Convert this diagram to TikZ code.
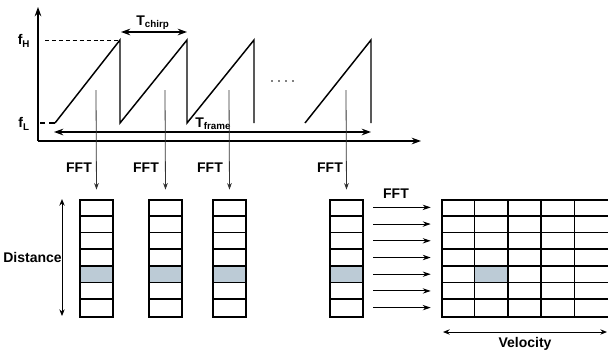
\documentclass[tikz,border=0pt]{standalone}
\usepackage{fontspec}
\setmainfont{Liberation Sans}
\usetikzlibrary{arrows.meta,calc}
\definecolor{hl}{RGB}{188,203,214}
\begin{document}
\begin{tikzpicture}[x=0.75pt,y=-0.75pt,
  lbl/.style={font=\fontsize{10.5}{12}\selectfont\bfseries, inner sep=0pt},
  sig/.style={line width=1.1pt, line join=miter},
  axisline/.style={line width=0.9pt, -{Stealth[length=7pt,width=5pt]}},
  dbl/.style={line width=1.1pt, {Stealth[length=7pt,width=5pt]}-{Stealth[length=7pt,width=5pt]}},
  thindbl/.style={line width=0.7pt, {Stealth[length=5pt,width=4pt]}-{Stealth[length=5pt,width=4pt]}},
  fftarrow/.style={line width=0.6pt, draw=black!80, -{Stealth[length=5pt,width=3.5pt]}},
  rowarrow/.style={line width=0.7pt, -{Stealth[length=6pt,width=4pt]}},
  col/.style={draw, line width=1.3pt, minimum width=25pt, minimum height=87.75pt, inner sep=0pt, anchor=north west},
  cellline/.style={line width=1.3pt},
]
\useasboundingbox (0,0) rectangle (608,354);

% axes
\coordinate (origin) at (38,141);
\coordinate (ytop) at (38,7);
\coordinate (xend) at (421,141);
\draw[axisline] (origin) -- (ytop);
\draw[axisline] (origin) -- (xend);

% frequency labels and dashed lines
\node[lbl] (fH) at (24,41) {f\textsubscript{H}};
\node[lbl] (fL) at (24,124) {f\textsubscript{L}};
\draw[line width=0.7pt, dash pattern=on 3pt off 2.2pt] (45,40) -- (120,40);
\draw[line width=0.9pt, dash pattern=on 4pt off 3pt] (40,123) -- (55,123);

% chirps
\draw[sig] (55,123) -- (120,40) -- (120,123) -- (187,40) -- (187,123) -- (254,40) -- (254,123);
\draw[sig] (305,123) -- (371,40) -- (371,123);
\foreach \x in {272,279,286,293} \fill (\x,81) circle (0.6pt);

% Tchirp
\coordinate (tc1) at (121,32);
\coordinate (tc2) at (187,32);
\draw[dbl] (tc1) -- (tc2);
\node[lbl] (tchirp) at (153,23) {T\textsubscript{chirp}};

% Tframe
\coordinate (tf1) at (54,132);
\coordinate (tf2) at (371,132);
\draw[dbl] (tf1) -- (tf2);
\node[lbl, anchor=west] (tframe) at (195,124) {T\textsubscript{frame}};

% columns
\foreach \n/\x in {c1/79, c2/148, c3/212, c4/329}{
  \fill[hl] (\x,265.8) rectangle ++(34,16.7);
  \node[col] (\n) at (\x,199) {};
  \foreach \k in {1,...,6}
    \draw[cellline] (\n.north west) ++(0,{-\k*12.536pt}) -- ++(25.5pt,0);
}

% FFT arrows from chirps
\foreach \n/\x in {c1/96, c2/165, c3/229, c4/346}{
  \coordinate (s\n) at (\x,90);
  \draw[fftarrow, shorten >=7pt] (s\n) -- (\n.north);
}
\node[lbl] (fft1) at (79,168) {FFT};
\node[lbl] (fft2) at (146,168) {FFT};
\node[lbl] (fft3) at (210,168) {FFT};
\node[lbl] (fft4) at (330,168) {FFT};
\node[lbl] (fft5) at (396,194) {FFT};

% Distance
\coordinate (d1) at (62,199);
\coordinate (d2) at (62,316);
\draw[thindbl] (d1) -- (d2);
\node[lbl, anchor=east] (dist) at (62,257) {Distance};

% grid
\fill[hl] (474.5,265.8) rectangle ++(33.5,16.7);
\node[draw, line width=1.3pt, minimum width=125.25pt, minimum height=87.75pt, inner sep=0pt, anchor=north west] (grid) at (441,199) {};
\foreach \k in {1,...,6}
  \draw[cellline] (grid.north west) ++(0,{-\k*12.536pt}) -- ++(125.25pt,0);
\foreach \k in {1,...,4}
  \draw[cellline] (grid.north west) ++({\k*25.05pt},0) -- ++(0,-87.75pt);

% row arrows
\foreach \k in {0,...,6}{
  \draw[rowarrow] ($(c4.north east)+(0,{-(\k+0.5)*12.536pt})$) ++(7pt,0) -- ++(43pt,0);
}

% Velocity
\coordinate (v1) at (443,332);
\coordinate (v2) at (607,332);
\draw[thindbl] (v1) -- (v2);
\node[lbl] (vel) at (525,344) {Velocity};
\end{tikzpicture}
\end{document}
